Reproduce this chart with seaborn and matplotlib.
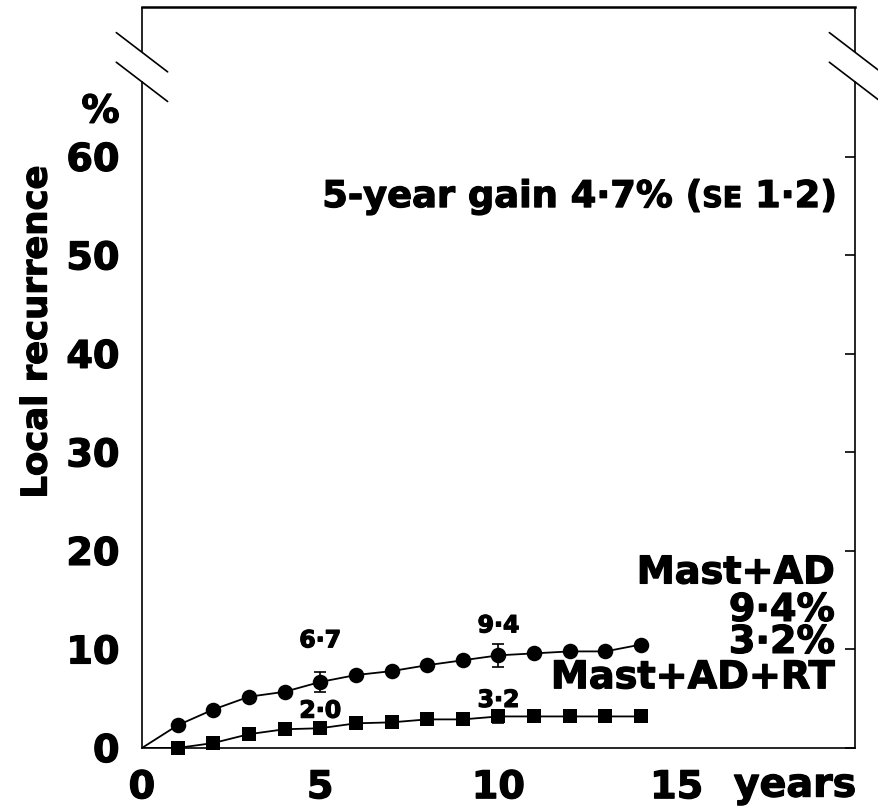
import matplotlib
matplotlib.use("Agg")
import matplotlib.pyplot as plt
import matplotlib.patheffects as pe
import matplotlib.transforms as mtransforms
import pandas as pd
import seaborn as sns

# Cumulative local recurrence (%) by year of follow-up
years = [0, 1, 2, 3, 4, 5, 6, 7, 8, 9, 10, 11, 12, 13, 14]
mast_ad = [0, 2.3, 3.9, 5.2, 5.7, 6.7, 7.4, 7.8, 8.4, 8.9, 9.4, 9.6, 9.8, 9.8, 10.5]
mast_ad_rt = [0, 0.0, 0.5, 1.4, 1.9, 2.0, 2.5, 2.6, 2.9, 2.9, 3.2, 3.2, 3.2, 3.2, 3.2]

# Standard errors at 5 and 10 years
se_years = [5, 10]
mast_ad_se = [1.0, 1.2]
mast_ad_rt_se = [0.5, 0.7]
gain_se = 1.2

arm_names = ["Mast+AD", "Mast+AD+RT"]
x_ticks = [0, 5, 10, 15]
y_ticks = [0, 10, 20, 30, 40, 50, 60]


def fmt(v):
    return f"{v:.1f}".replace(".", "\u00b7")


sns.set_style("white")
plt.rcParams["font.family"] = ["DejaVu Sans"]
plt.rcParams["font.weight"] = "bold"
plt.rcParams["text.color"] = "black"
plt.rcParams["axes.labelcolor"] = "black"

# Slight outline to give the bold type a heavier weight
heavy = [pe.withStroke(linewidth=0.9, foreground="black")]

fig = plt.figure(figsize=(8.79, 8.08), dpi=100)
ax = fig.add_axes([0.1615, 0.0743, 0.8112, 0.917])

df = pd.DataFrame({
    "year": years * 2,
    "pct": mast_ad + mast_ad_rt,
    "arm": [arm_names[0]] * len(years) + [arm_names[1]] * len(years),
})

sns.lineplot(data=df, x="year", y="pct", hue="arm", palette=["black", "black"],
             lw=1.3, legend=False, ax=ax)

pts = df[df["year"] > 0]
sns.scatterplot(data=pts[pts["arm"] == arm_names[0]], x="year", y="pct",
                marker="o", s=125, color="black", edgecolor="black", linewidth=0,
                clip_on=False, zorder=3, legend=False, ax=ax)
sns.scatterplot(data=pts[pts["arm"] == arm_names[1]], x="year", y="pct",
                marker="s", s=92, color="black", edgecolor="black", linewidth=0,
                clip_on=False, zorder=3, legend=False, ax=ax)

for vals, errs in ((mast_ad, mast_ad_se), (mast_ad_rt, mast_ad_rt_se)):
    ax.errorbar(se_years, [vals[years.index(y)] for y in se_years], yerr=errs,
                fmt="none", ecolor="black", elinewidth=1.2, capsize=4.5,
                capthick=1.2, zorder=4, clip_on=False)

# Axes, ticks and frame
ytop = 75.2
ax.set_xlim(0, 20)
ax.set_ylim(0, ytop)
ax.set_xticks(x_ticks)
ax.set_yticks(y_ticks)
ax.set_xticklabels([str(t) for t in x_ticks])
ax.set_yticklabels([str(t) for t in y_ticks])
ax.tick_params(axis="both", direction="in", length=7, width=1.2,
               labelsize=27.5, pad=16, colors="black")
ax.tick_params(axis="y", right=True, labelright=False)
ax.tick_params(axis="x", top=False)
for lbl in ax.get_xticklabels() + ax.get_yticklabels():
    lbl.set_path_effects(heavy)
ax.set_xlabel("")
ax.set_ylabel("Local recurrence", fontsize=25.5, fontweight="bold",
              color="black", path_effects=heavy)
ax.yaxis.set_label_coords(-0.124, 0.561)

for name, sp in ax.spines.items():
    sp.set_color("black")
    sp.set_linewidth(1.2)
ax.spines["top"].set_linewidth(1.8)

# Broken vertical axes near the top
gap_lo, gap_hi = 0.899, 0.939
ax.spines["left"].set_bounds(0, gap_lo * ytop)
ax.spines["right"].set_bounds(0, gap_lo * ytop)
for xc in (0, 1):
    ax.plot([xc, xc], [gap_hi, 1], transform=ax.transAxes, color="black",
            lw=1.2, clip_on=False, solid_capstyle="butt")
    for yc in (gap_lo, gap_hi):
        ax.plot([xc - 0.036, xc + 0.036], [yc + 0.0265, yc - 0.0265],
                transform=ax.transAxes, color="black", lw=1.2, clip_on=False)

# Unit labels
ax.annotate("%", xy=(0, 63.5), xycoords=("axes fraction", "data"),
            xytext=(-16, 0), textcoords="offset points", ha="right",
            va="baseline", fontsize=27.5, fontweight="bold", color="black",
            path_effects=heavy)
ax.annotate("years", xy=(1, 0), xycoords="axes fraction",
            xytext=(1, -35), textcoords="offset points", ha="right",
            va="baseline", fontsize=28.5, fontweight="bold", color="black",
            path_effects=heavy)

# Values at 5 and 10 years
label_offsets = {(0, 5): 30, (0, 10): 21.6, (1, 5): 12.7, (1, 10): 11.9}
for (arm, yr), off in label_offsets.items():
    v = (mast_ad, mast_ad_rt)[arm][years.index(yr)]
    ax.annotate(fmt(v), xy=(yr, v), xytext=(0, off), textcoords="offset points",
                ha="center", va="center", fontsize=17, fontweight="bold",
                color="black", path_effects=heavy)

# Gain at 5 years, with small-caps "SE"
gain = mast_ad[years.index(5)] - mast_ad_rt[years.index(5)]
pieces = [("5-year gain " + fmt(gain) + "% (", 26.5), ("SE", 20.5),
          (" " + fmt(gain_se) + ")", 26.5)]
renderer = fig.canvas.get_renderer()
base = mtransforms.blended_transform_factory(ax.transAxes, ax.transData)
shift = 18
for txt, size in reversed(pieces):
    t = ax.text(1, 54.9, txt, fontsize=size, fontweight="bold", ha="right",
                va="baseline", color="black", path_effects=heavy,
                transform=mtransforms.offset_copy(base, fig=fig, x=-shift, y=0,
                                                  units="dots"))
    shift += t.get_window_extent(renderer).width

# End-point labels for each arm
end_lines = [
    (arm_names[0], 16.7),
    (fmt(mast_ad[years.index(10)]) + "%", 12.9),
    (fmt(mast_ad_rt[years.index(10)]) + "%", 9.65),
    (arm_names[1], 6.06),
]
for txt, yb in end_lines:
    ax.annotate(txt, xy=(1, yb), xycoords=("axes fraction", "data"),
                xytext=(-14.4, 0), textcoords="offset points", ha="right",
                va="baseline", fontsize=27.5, fontweight="bold", color="black",
                path_effects=heavy)

fig.savefig("out.png", dpi=100, facecolor="white")
